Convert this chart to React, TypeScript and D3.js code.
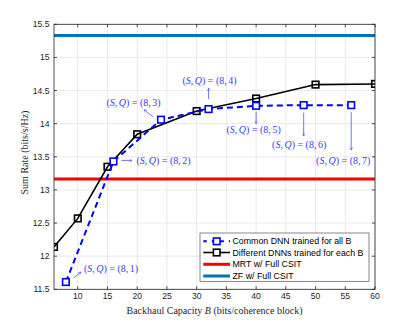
import React from 'react';
import * as d3 from 'd3';

// Common DNN trained for all B
const commonB = [8, 16, 24, 32, 40, 48, 56];
const commonRate = [11.61, 13.43, 14.06, 14.22, 14.27, 14.28, 14.28];
const commonQ = [1, 2, 3, 4, 5, 6, 7];

// Different DNNs trained for each B
const diffB = [6, 10, 15, 20, 30, 40, 50, 60];
const diffRate = [12.14, 12.57, 13.35, 13.84, 14.19, 14.38, 14.59, 14.6];

const mrtRate = 13.165;
const zfRate = 15.33;

const xTicks = [10, 15, 20, 25, 30, 35, 40, 45, 50, 55, 60];
const yTicks = [11.5, 12, 12.5, 13, 13.5, 14, 14.5, 15, 15.5];

const legendLabels = [
  'Common DNN trained for all B',
  'Different DNNs trained for each B',
  'MRT w/ Full CSIT',
  'ZF w/ Full CSIT',
];

// annotation layout, relative to the marker: arrow tail, arrow head, text anchor
const annoLayout = [
  { a: [8, -4], b: [15, -10], t: [18, -14], anchor: 'start' },
  { a: [8, -1], b: [18.6, -1], t: [23, -1], anchor: 'start' },
  { a: [-8, -3], b: [-17, -10], t: [-27.5, -17.5], anchor: 'middle' },
  { a: [0, -10], b: [0, -21], t: [1, -29], anchor: 'middle' },
  { a: [0, 6], b: [0, 18], t: [-2.5, 24], anchor: 'middle' },
  { a: [0, 7.5], b: [0, 31], t: [-4.5, 39.5], anchor: 'middle' },
  { a: [0, 7], b: [0, 45], t: [-8, 55], anchor: 'middle' },
];

const W = 415;
const H = 325;
const m = { left: 54, top: 24.3, right: 375, bottom: 289.3 };

const blue = '#0000ff';
const annoBlue = '#3b3bff';
const axisCol = '#262626';
const sans = '"Liberation Sans", Arial, sans-serif';
const serif = '"Liberation Serif", "Times New Roman", serif';

const Square = ({ x, y, color, fill = 'none' }: any) => (
  <rect x={x - 3.3} y={y - 3.3} width={6.6} height={6.6} fill={fill} stroke={color} strokeWidth={1.6} />
);

const SQText = ({ q, ...rest }: any) => (
  <text fontFamily={serif} fontSize={10} fill={annoBlue} {...rest}>
    (<tspan fontStyle="italic">S</tspan>,<tspan fontStyle="italic" dx={1.5}>Q</tspan>) = (8,<tspan dx={1.5}>{q}</tspan>)
  </text>
);

export default function App() {
  const x = d3.scaleLinear().domain([6, 60]).range([m.left, m.right]);
  const y = d3.scaleLinear().domain([11.5, 15.5]).range([m.bottom, m.top]);

  const line = d3
    .line<[number, number]>()
    .x((d) => x(d[0]))
    .y((d) => y(d[1]));

  const commonPts = commonB.map((b, i) => [b, commonRate[i]] as [number, number]);
  const diffPts = diffB.map((b, i) => [b, diffRate[i]] as [number, number]);

  const legX = 200;
  const legY = 233;
  const rowY = [241.3, 252.5, 264.3, 276];

  return (
    <svg width={W} height={H} style={{ position: 'absolute', left: 0, top: 0, background: '#fff' }}>
      <defs>
        <marker id="ah" viewBox="0 0 10 10" refX="9" refY="5" markerWidth="5" markerHeight="5" orient="auto">
          <path d="M1,1 L9,5 L1,9" fill="none" stroke={annoBlue} strokeWidth={1.3} />
        </marker>
        <clipPath id="plot">
          <rect x={m.left} y={m.top} width={m.right - m.left} height={m.bottom - m.top} />
        </clipPath>
      </defs>

      {/* grid */}
      <g stroke="#e5e5e5" strokeWidth={0.8}>
        {xTicks.map((t) => (
          <line key={'gx' + t} x1={x(t)} x2={x(t)} y1={m.top} y2={m.bottom} />
        ))}
        {yTicks.map((t) => (
          <line key={'gy' + t} x1={m.left} x2={m.right} y1={y(t)} y2={y(t)} />
        ))}
      </g>

      <g clipPath="url(#plot)">
        {/* reference lines */}
        <line x1={m.left} x2={m.right} y1={y(mrtRate)} y2={y(mrtRate)} stroke="#ff0000" strokeWidth={3} />
        <line x1={m.left} x2={m.right} y1={y(zfRate)} y2={y(zfRate)} stroke="#0072bd" strokeWidth={3} />

        {/* different DNNs */}
        <path d={line(diffPts) || ''} fill="none" stroke="#000" strokeWidth={1.6} />
        {diffPts.map((p, i) => (
          <Square key={'d' + i} x={x(p[0])} y={y(p[1])} color="#000" />
        ))}

        {/* common DNN */}
        <path d={line(commonPts) || ''} fill="none" stroke={blue} strokeWidth={2} strokeDasharray="6,4" />
        {commonPts.map((p, i) => (
          <Square key={'c' + i} x={x(p[0])} y={y(p[1])} color={blue} fill="#fff" />
        ))}
      </g>

      {/* annotations */}
      {commonPts.map((p, i) => {
        const px = x(p[0]);
        const py = y(p[1]);
        const L = annoLayout[i];
        return (
          <g key={'an' + i}>
            <line
              x1={px + L.a[0]}
              y1={py + L.a[1]}
              x2={px + L.b[0]}
              y2={py + L.b[1]}
              stroke={annoBlue}
              strokeWidth={0.7}
              markerEnd="url(#ah)"
            />
            <SQText q={commonQ[i]} x={px + L.t[0]} y={py + L.t[1]} dy="0.35em" textAnchor={L.anchor} />
          </g>
        );
      })}

      {/* axes box */}
      <rect x={m.left} y={m.top} width={m.right - m.left} height={m.bottom - m.top} fill="none" stroke={axisCol} strokeWidth={0.8} />
      <g stroke={axisCol} strokeWidth={0.8}>
        {xTicks.map((t) => (
          <g key={'tx' + t}>
            <line x1={x(t)} x2={x(t)} y1={m.bottom} y2={m.bottom - 3} />
            <line x1={x(t)} x2={x(t)} y1={m.top} y2={m.top + 3} />
          </g>
        ))}
        {yTicks.map((t) => (
          <g key={'ty' + t}>
            <line x1={m.left} x2={m.left + 3} y1={y(t)} y2={y(t)} />
            <line x1={m.right} x2={m.right - 3} y1={y(t)} y2={y(t)} />
          </g>
        ))}
      </g>
      <g fontFamily={sans} fontSize={8.6} fill={axisCol}>
        {xTicks.map((t) => (
          <text key={'lx' + t} x={x(t)} y={m.bottom + 10} textAnchor="middle">
            {t}
          </text>
        ))}
        {yTicks.map((t) => (
          <text key={'ly' + t} x={m.left - 4.5} y={y(t)} dy="0.35em" textAnchor="end">
            {t}
          </text>
        ))}
      </g>

      {/* axis labels */}
      <text x={214.5} y={313.5} textAnchor="middle" fontFamily={serif} fontSize={10} fill={axisCol}>
        Backhaul Capacity <tspan fontStyle="italic">B</tspan> (bits/coherence block)
      </text>
      <text
        transform={`translate(27.5,152.5) rotate(-90)`}
        textAnchor="middle"
        fontFamily={serif}
        fontSize={10}
        fill={axisCol}
      >
        Sum Rate (bits/s/Hz)
      </text>

      {/* legend */}
      <rect x={legX} y={legY} width={169} height={48.3} fill="#fff" stroke="#555" strokeWidth={0.7} />
      <line x1={203.3} x2={230} y1={rowY[0]} y2={rowY[0]} stroke={blue} strokeWidth={2} strokeDasharray="3.5,5" />
      <Square x={216.7} y={rowY[0]} color={blue} fill="#fff" />
      <line x1={203.3} x2={230} y1={rowY[1]} y2={rowY[1]} stroke="#000" strokeWidth={1.6} />
      <Square x={216.7} y={rowY[1]} color="#000" fill="#fff" />
      <line x1={203.3} x2={230} y1={rowY[2]} y2={rowY[2]} stroke="#ff0000" strokeWidth={3} />
      <line x1={203.3} x2={230} y1={rowY[3]} y2={rowY[3]} stroke="#0072bd" strokeWidth={3} />
      <g fontFamily={sans} fontSize={8.8} fill="#000">
        {legendLabels.map((l, i) => (
          <text key={'lg' + i} x={232.5} y={rowY[i]} dy="0.35em">
            {l}
          </text>
        ))}
      </g>
    </svg>
  );
}
